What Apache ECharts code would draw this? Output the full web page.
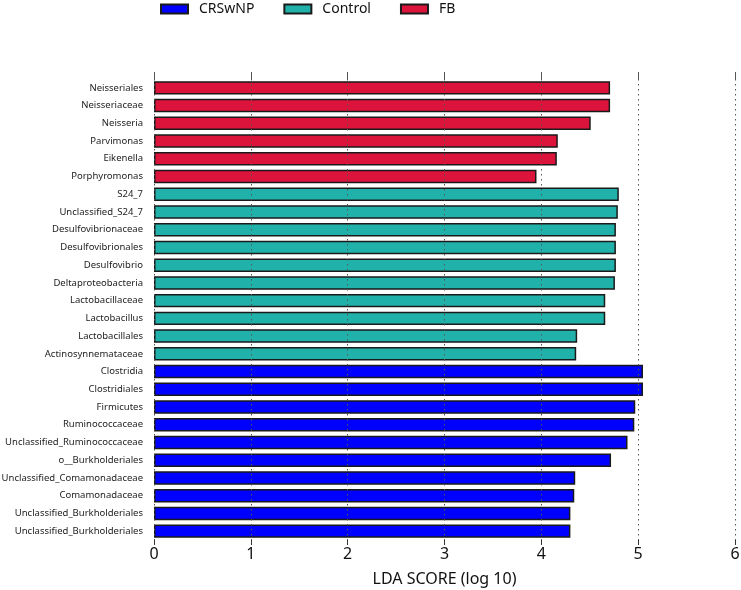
<!DOCTYPE html>
<html><head><meta charset="utf-8">
<script src="https://cdn.jsdelivr.net/npm/echarts@6/dist/echarts.min.js"></script>
<style>html,body{margin:0;padding:0;background:#fff}#c{width:741px;height:590px}</style>
</head><body><div id="c"></div>
<script>
// Categories top to bottom
const fbNames = ['Neisseriales','Neisseriaceae','Neisseria','Parvimonas','Eikenella','Porphyromonas'];
const fbValues = [4.71,4.71,4.51,4.17,4.16,3.95];
const controlNames = ['S24_7','Unclassified_S24_7','Desulfovibrionaceae','Desulfovibrionales','Desulfovibrio','Deltaproteobacteria','Lactobacillaceae','Lactobacillus','Lactobacillales','Actinosynnemataceae'];
const controlValues = [4.80,4.79,4.77,4.77,4.77,4.76,4.66,4.66,4.37,4.36];
const crsNames = ['Clostridia','Clostridiales','Firmicutes','Ruminococcaceae','Unclassified_Ruminococcaceae','o__Burkholderiales','Unclassified_Comamonadaceae','Comamonadaceae','Unclassified_Burkholderiales','Unclassified_Burkholderiales '];
const crsValues = [5.05,5.05,4.97,4.96,4.89,4.72,4.35,4.34,4.30,4.30];
const groupNames = ['CRSwNP','Control','FB'];
const groupColors = ['#0000FF','#20B2AA','#DC143C'];
const xTicks = [0,1,2,3,4,5,6];

const categories = fbNames.concat(controlNames, crsNames);
function fill(names, values){
  return categories.map(c => { const i = names.indexOf(c); return i >= 0 ? values[i] : null; });
}
const groupData = [fill(crsNames, crsValues), fill(controlNames, controlValues), fill(fbNames, fbValues)];

const chart = echarts.init(document.getElementById('c'));
const FONT = 'Noto Sans';
chart.setOption({
  animation: false,
  textStyle: {fontFamily: FONT},
  legend: {
    top: -3, left: 155, itemWidth: 27, itemHeight: 9, itemGap: 29,
    textStyle: {fontSize: 14, color: '#111', fontFamily: FONT, padding: [0,0,0,6]},
    data: groupNames.map(n => ({name: n, icon: 'rect'}))
  },
  grid: {left: 154, right: 6, top: 79, bottom: 50, containLabel: false, outerBoundsMode: 'none'},
  xAxis: [{
    type: 'value', min: 0, max: 6, interval: 1, z: 10,
    name: 'LDA SCORE (log 10)', nameLocation: 'middle', nameGap: 31,
    nameTextStyle: {fontSize: 16, color: '#111', fontFamily: FONT},
    axisLine: {show: false},
    axisTick: {show: true, length: 5, lineStyle: {color: '#333'}},
    axisLabel: {fontSize: 16, color: '#111', margin: 6, fontFamily: FONT, formatter: v => xTicks.includes(v) ? String(v) : ''},
    splitLine: {show: true, lineStyle: {color: '#555', type: [1.5, 3.5], width: 1}}
  },{
    type: 'value', position: 'top', min: 0, max: 6, interval: 1, z: 10,
    axisLine: {show: false},
    axisTick: {show: true, length: 7, lineStyle: {color: '#555'}},
    axisLabel: {show: false},
    splitLine: {show: false}
  }],
  yAxis: {
    type: 'category', inverse: true, data: categories,
    axisLine: {show: false}, axisTick: {show: false},
    axisLabel: {fontSize: 9.5, color: '#222', margin: 11, fontFamily: FONT, formatter: v => v.trim()}
  },
  series: groupNames.map((n, k) => ({
    name: n, type: 'bar', data: groupData[k], barWidth: '76%', barGap: '-100%',
    itemStyle: {color: groupColors[k], borderColor: '#1a1a1a', borderWidth: 1.5}
  }))
});
</script></body></html>
